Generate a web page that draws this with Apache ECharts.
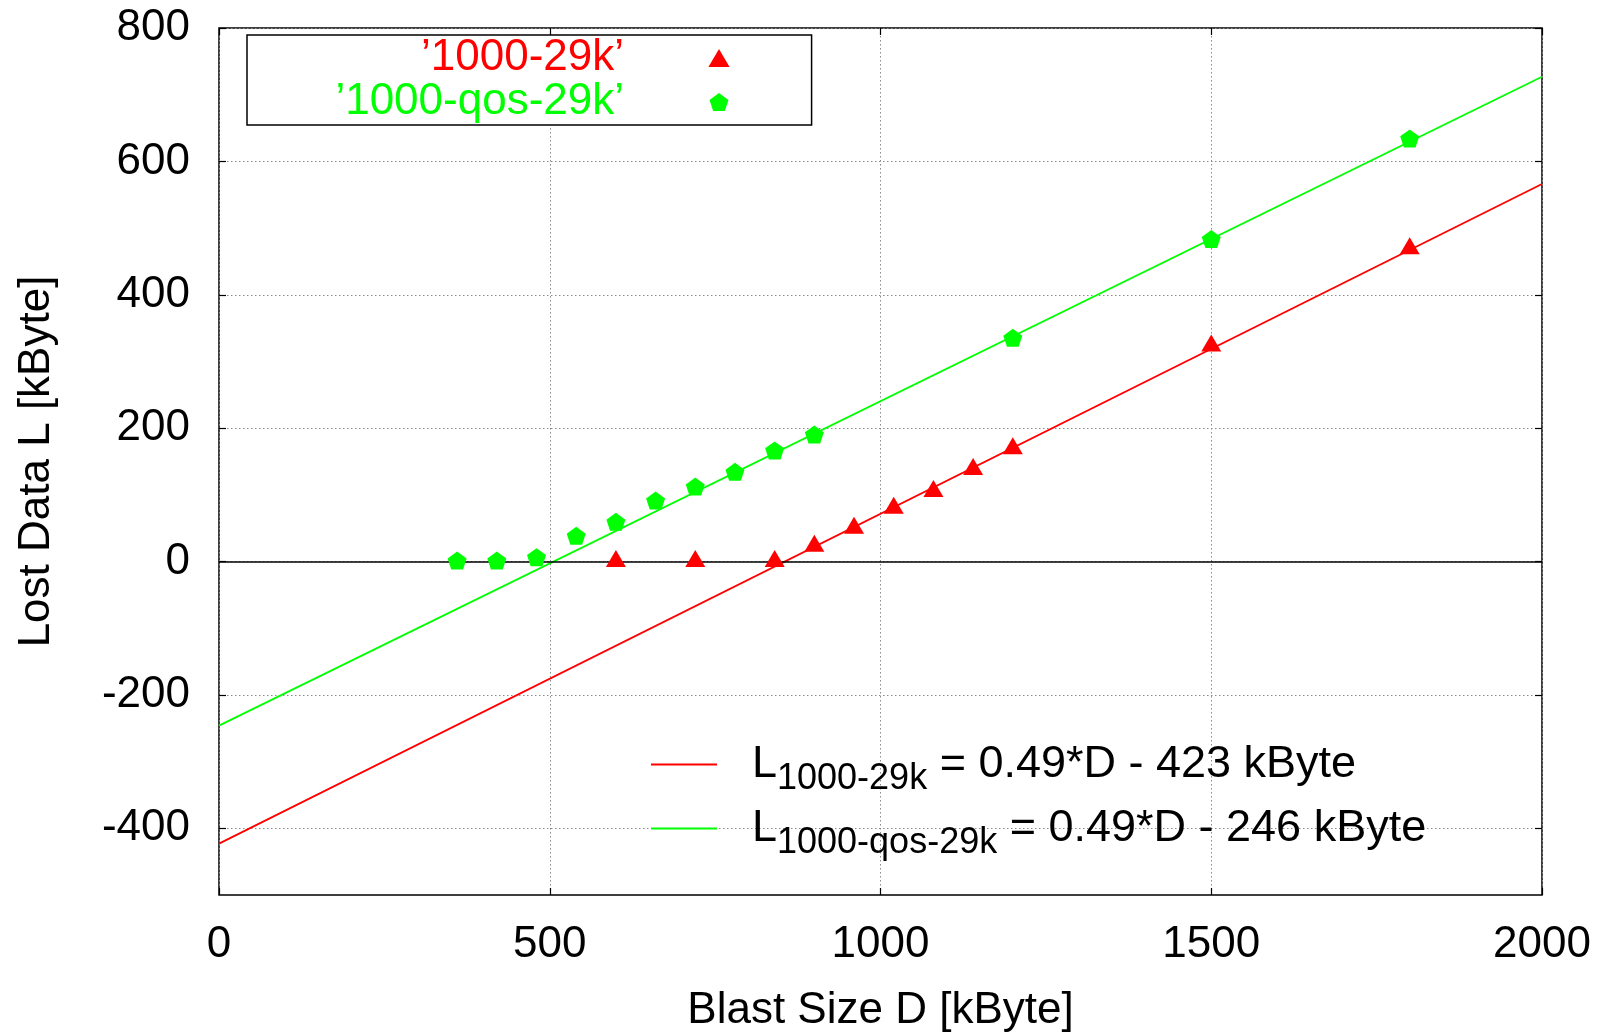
<!DOCTYPE html>
<html><head><meta charset="utf-8">
<script src="https://cdn.jsdelivr.net/npm/echarts@6/dist/echarts.min.js"></script>
<style>html,body{margin:0;padding:0;background:#fff}#c{width:1603px;height:1035px}</style>
</head><body><div id="c"></div>
<script>
const FONT = '"Liberation Sans", Arial, Helvetica, sans-serif';
const seriesNames = ['\u20191000-29k\u2019', '\u20191000-qos-29k\u2019'];
const redX = [600, 720, 840, 900, 960, 1020, 1080, 1140, 1200, 1500, 1800];
const redY = [0, 0, 0, 23, 50, 80, 105, 138, 169, 323, 469];
const greenX = [360, 420, 480, 540, 600, 660, 720, 780, 840, 900, 1200, 1500, 1800];
const greenY = [0, 0, 5, 37, 58, 90, 111, 133, 165, 189, 334, 482, 633];
const fitX = [0, 2000];
const fitRedY = [-423, 566];
const fitGreenY = [-246, 727];
const fitNames = ['fit-1000-29k', 'fit-1000-qos-29k'];
const fitSubs = ['1000-29k', '1000-qos-29k'];
const fitSlopes = ['0.49', '0.49'];
const fitOffsets = ['423', '246'];
const xTicks = [0, 500, 1000, 1500, 2000];
const yTicks = [-400, -200, 0, 200, 400, 600, 800];
const xTitle = 'Blast Size D [kByte]';
const yTitle = 'Lost Data L [kByte]';

const zip = (xs, ys) => xs.map((x, i) => [x, ys[i]]);
const RED = '#ff0000', GREEN = '#00ff00';
const PENTA = 'path://M0,-1L0.9511,-0.309L0.5878,0.809L-0.5878,0.809L-0.9511,-0.309Z';
const TRI = 'path://M0,-0.85L1,0.85L-1,0.85Z';

const gridLine = { show: true, lineStyle: { color: '#8a8a8a', width: 1, type: [1.5, 2.5] } };
const tick = { show: true, inside: true, length: 7, lineStyle: { color: '#000', width: 1.2 } };
const plainNum = v => String(v);

const chart = echarts.init(document.getElementById('c'), null, { renderer: 'canvas' });
chart.setOption({
  backgroundColor: '#fff',
  animation: false,
  textStyle: { fontFamily: FONT },
  grid: { left: 219, right: 61, top: 28, bottom: 140, show: true, borderColor: '#000', borderWidth: 1.5,
          containLabel: false, outerBoundsMode: 'none' },
  xAxis: [{
    type: 'value', min: 0, max: 2000, interval: 500, position: 'bottom',
    axisLine: { show: false, onZero: false },
    axisTick: Object.assign({ customValues: xTicks }, tick),
    axisLabel: { customValues: xTicks, formatter: plainNum, color: '#000', fontSize: 44, fontFamily: FONT, margin: 28 },
    splitLine: gridLine,
    name: xTitle, nameLocation: 'middle', nameGap: 94,
    nameTextStyle: { color: '#000', fontSize: 44, fontFamily: FONT }
  }, {
    type: 'value', min: 0, max: 2000, interval: 500, position: 'top',
    axisLine: { show: false, onZero: false }, axisTick: Object.assign({ customValues: xTicks }, tick),
    axisLabel: { show: false }, splitLine: { show: false }
  }],
  yAxis: [{
    type: 'value', min: -500, max: 800, position: 'left',
    axisLine: { show: false, onZero: false },
    axisTick: Object.assign({ customValues: yTicks }, tick),
    axisLabel: { customValues: yTicks, formatter: plainNum, color: '#000', fontSize: 44, fontFamily: FONT, margin: 29 },
    splitLine: gridLine,
    name: yTitle, nameLocation: 'middle', nameGap: 160, nameRotate: 90,
    nameTextStyle: { color: '#000', fontSize: 44, fontFamily: FONT }
  }, {
    type: 'value', min: -500, max: 800, position: 'right',
    axisLine: { show: false, onZero: false },
    axisTick: Object.assign({ customValues: yTicks }, tick),
    axisLabel: { show: false }, splitLine: { show: false }
  }],
  legend: [{
    data: [
      { name: seriesNames[0], textStyle: { color: RED } },
      { name: seriesNames[1], textStyle: { color: GREEN } }
    ],
    orient: 'vertical', align: 'right',
    left: 247, top: 35,
    padding: [1, 82, 1, 83],
    itemWidth: 180, itemHeight: 18, itemGap: 0,
    borderColor: '#000', borderWidth: 1.5, backgroundColor: '#fff',
    selectedMode: false,
    textStyle: { fontSize: 44, fontFamily: FONT, width: 294, align: 'right', lineHeight: 44 }
  }, {
    data: fitNames,
    orient: 'vertical', align: 'left',
    left: 650, top: 742,
    padding: 0,
    itemWidth: 66, itemHeight: 14, itemGap: 9,
    itemStyle: { opacity: 0 },
    lineStyle: { width: 2 },
    selectedMode: false,
    formatter: function (name) {
      const i = fitNames.indexOf(name);
      return '{L|L}{s|' + fitSubs[i] + '}{m| = ' + fitSlopes[i] + '*D - ' + fitOffsets[i] + ' kByte}';
    },
    textStyle: {
      color: '#000', fontFamily: FONT, padding: [0, 0, 0, 30],
      rich: {
        L: { fontSize: 45, fontFamily: FONT, color: '#000', verticalAlign: 'top', padding: [10, 0, 10, 0] },
        s: { fontSize: 36, fontFamily: FONT, color: '#000', verticalAlign: 'bottom' },
        m: { fontSize: 45, fontFamily: FONT, color: '#000', verticalAlign: 'top', padding: [10, 0, 10, 0] }
      }
    }
  }],
  series: [{
    name: fitNames[0], type: 'line', data: zip(fitX, fitRedY),
    symbol: 'none', lineStyle: { color: RED, width: 1.8 }, itemStyle: { color: RED }, z: 3,
    markLine: {
      silent: true, symbol: 'none', label: { show: false },
      lineStyle: { color: '#000', width: 1.5, type: 'solid' },
      data: [{ yAxis: 0 }]
    }
  }, {
    name: fitNames[1], type: 'line', data: zip(fitX, fitGreenY),
    symbol: 'none', lineStyle: { color: GREEN, width: 1.8 }, itemStyle: { color: GREEN }, z: 3
  }, {
    name: seriesNames[0], type: 'scatter', data: zip(redX, redY),
    symbol: TRI, symbolSize: [20, 17], symbolOffset: [0, -3],
    itemStyle: { color: RED, opacity: 1 }, z: 5
  }, {
    name: seriesNames[1], type: 'scatter', data: zip(greenX, greenY),
    symbol: PENTA, symbolSize: [19, 18], symbolOffset: [0, -1],
    itemStyle: { color: GREEN, opacity: 1 }, z: 5
  }]
});
</script></body></html>
